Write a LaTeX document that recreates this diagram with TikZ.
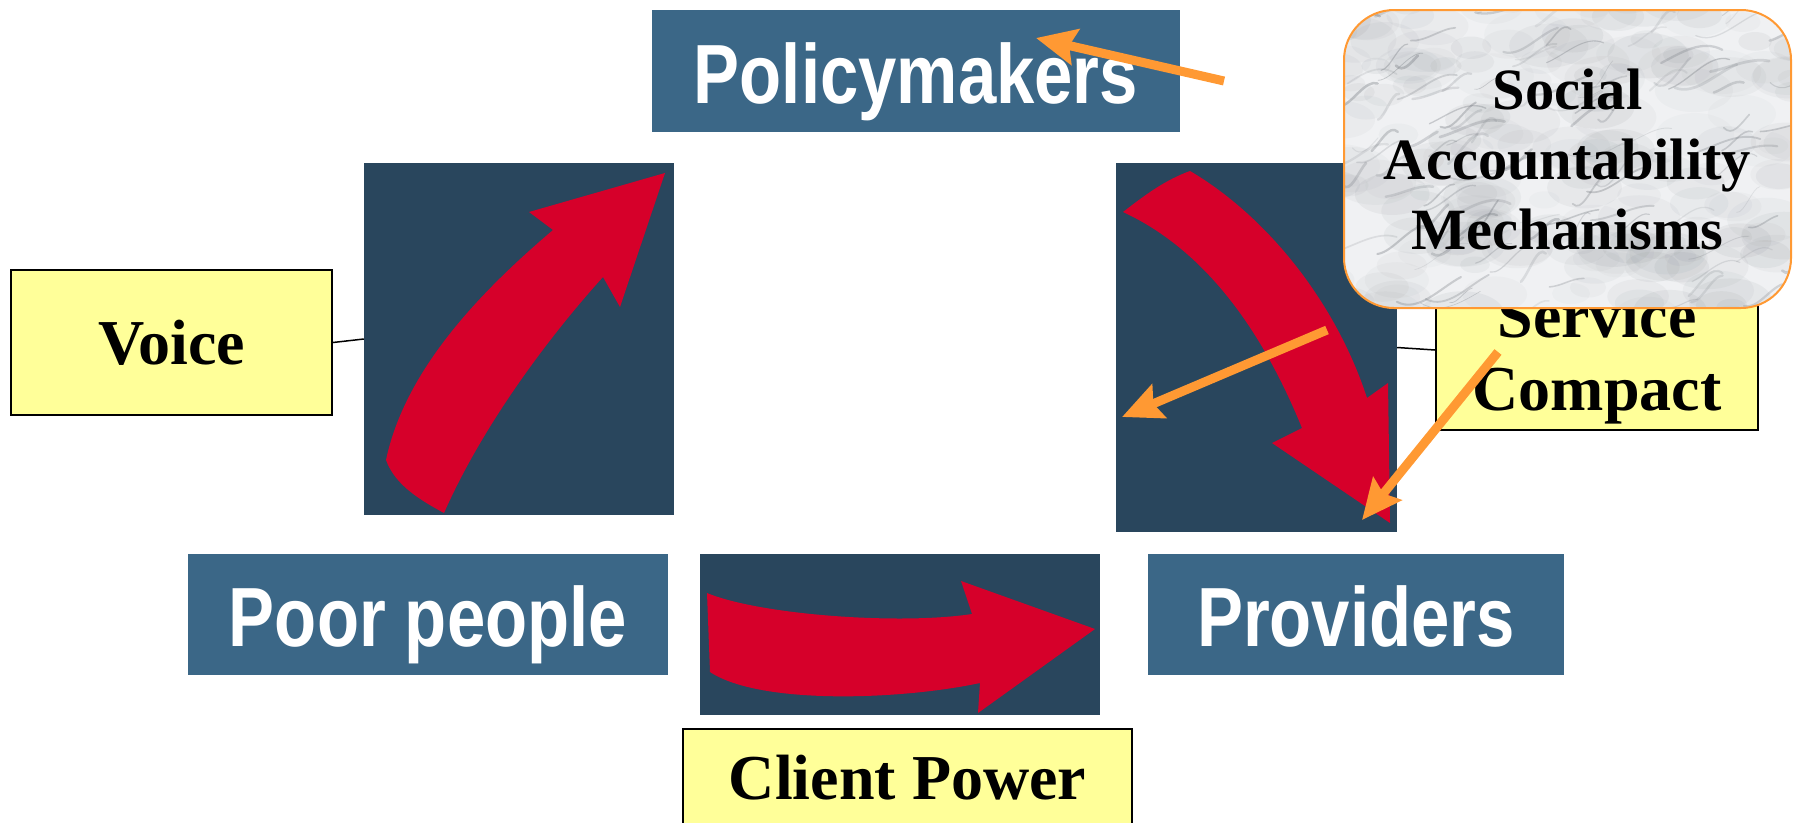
\documentclass[tikz,border=0pt]{standalone}
\usepackage{fontspec}
\usepackage{graphicx}
\setmainfont{Liberation Serif}
\newfontfamily\arialfont{Liberation Sans}
\usetikzlibrary{arrows.meta}
\definecolor{panelc}{RGB}{41,70,93}
\definecolor{bluebox}{RGB}{59,103,135}
\definecolor{redarrow}{RGB}{214,0,42}
\definecolor{orangec}{RGB}{255,153,51}
\definecolor{yellowc}{RGB}{255,255,153}
\definecolor{marblebase}{RGB}{240,241,243}
\definecolor{veinc}{RGB}{110,115,122}
\tikzset{
  actor/.style={fill=bluebox, text=white, inner sep=0pt, text height=70pt, text depth=6pt,
    font=\arialfont\bfseries\fontsize{84}{90}\selectfont},
  panel/.style={fill=panelc, inner sep=0pt},
  label/.style={fill=yellowc, draw=black, line width=2pt, inner sep=0pt, align=center,
    font=\bfseries\fontsize{64}{73}\selectfont},
  redshape/.style={fill=redarrow},
  orangearrow/.style={draw=orangec, line width=9pt,
    -{Stealth[length=40pt,width=36pt,inset=6pt]}},
  marblebox/.style={draw=orangec, line width=2pt, rounded corners=50pt, inner sep=0pt, align=center,
    font=\bfseries\fontsize{58.5}{70}\selectfont},
}
\begin{document}
\begin{tikzpicture}[x=1pt,y=-1pt]
\useasboundingbox (0,0) rectangle (1793,822);
\clip (0,0) rectangle (1793,822);
% dark panels
\node[panel, minimum width=310pt, minimum height=352pt] (lp) at (519,339) {};
\node[panel, minimum width=281pt, minimum height=369pt] (rp) at (1256.5,347.5) {};
\node[panel, minimum width=400pt, minimum height=161pt] (bp) at (900,634.5) {};
% actor boxes
\node[actor, minimum width=528pt, minimum height=122pt] (pol) at (916,71) {\scalebox{0.82}[1]{Policymakers}};
\node[actor, minimum width=480pt, minimum height=121pt] (poor) at (428,614.5) {\scalebox{0.82}[1]{Poor people}};
\node[actor, minimum width=416pt, minimum height=121pt] (prov) at (1356,614.5) {\scalebox{0.82}[1]{Providers}};
% red arrows
\fill[redshape] (386,460) .. controls (395,485) and (420,500) .. (444,513)
  .. controls (485,420) and (555,330) .. (603,277)
  -- (620,307) -- (665,173) -- (529,212) -- (553,230)
  .. controls (480,292) and (405,370) .. (386,460) -- cycle;
\fill[redshape] (1123,212) .. controls (1145,195) and (1165,180) .. (1190,171)
  .. controls (1265,215) and (1335,300) .. (1367,398)
  -- (1388,383) -- (1390,523) -- (1272,443) -- (1302,428)
  .. controls (1262,330) and (1205,250) .. (1123,212) -- cycle;
\fill[redshape] (707,593) .. controls (760,615) and (900,625) .. (972,614)
  -- (961,581) -- (1095,629) -- (978,713) -- (980,683)
  .. controls (900,700) and (760,705) .. (710,672) -- cycle;
% yellow labels
\node[label, minimum width=321pt, minimum height=145pt] (voice) at (171.5,342.5) {Voice};
\node[label, minimum width=322pt, minimum height=142pt] (svc) at (1597,359) {Service\\Compact};
\node[label, minimum width=449pt, minimum height=98pt] (client) at (907.5,778) {Client Power};
% connectors
\draw[line width=1.5pt] (voice.east) -- (lp.west);
\draw[line width=1.5pt] (rp.east) -- ([yshift=9pt]svc.west);
% social accountability box with marble texture
\begin{scope}
\clip[rounded corners=50pt] (1344,10) rectangle (1791,308);
\fill[marblebase] (1344,10) rectangle (1791,308);
\pgfmathsetseed{11}
\foreach \i in {1,...,200}{
  \pgfmathsetmacro{\xa}{1330+470*rnd}
  \pgfmathsetmacro{\ya}{0+320*rnd}
  \pgfmathsetmacro{\rr}{8+16*rnd}
  \pgfmathsetmacro{\op}{0.03+0.05*rnd}
  \fill[veinc, opacity=\op] (\xa,\ya) ellipse ({\rr*1.8} and \rr);
}
\foreach \i in {1,...,120}{
  \pgfmathsetmacro{\xa}{1330+470*rnd}
  \pgfmathsetmacro{\ya}{0+320*rnd}
  \pgfmathsetmacro{\dx}{20+45*rnd}
  \pgfmathsetmacro{\dy}{-30+22*rnd}
  \pgfmathsetmacro{\cx}{-12+24*rnd}
  \pgfmathsetmacro{\op}{0.10+0.25*rnd}
  \pgfmathsetmacro{\lw}{0.6+2.2*rnd}
  \draw[veinc, opacity=\op, line width=\lw pt, line cap=round]
    (\xa,\ya) .. controls +(\dx/3,\cx) and +(-\dx/3,\cx) .. +(\dx,\dy);
}
\end{scope}
\node[marblebox, minimum width=447pt, minimum height=298pt] (sam) at (1567.5,159)
  {Social\\Accountability\\Mechanisms};
% orange arrows
\coordinate (o1s) at (1224,81);
\coordinate (o1e) at (1036,38);
\coordinate (o2s) at (1327,330);
\coordinate (o2e) at (1122,417);
\coordinate (o3s) at (1498,352);
\coordinate (o3e) at (1362,520);
\draw[orangearrow] (o1s) -- (o1e);
\draw[orangearrow] (o2s) -- (o2e);
\draw[orangearrow] (o3s) -- (o3e);
\end{tikzpicture}
\end{document}
